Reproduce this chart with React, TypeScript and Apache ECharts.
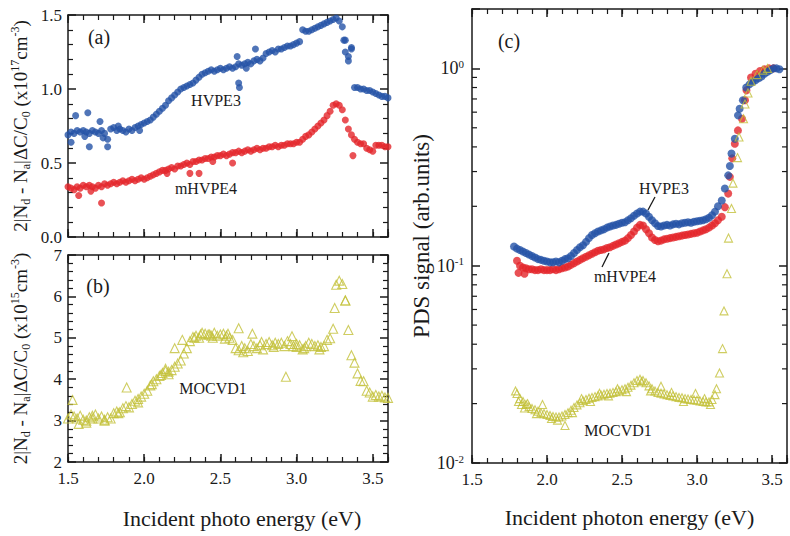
import React, { useEffect, useRef } from 'react';
import * as echarts from 'echarts';

// ---------- Panels (a) and (b): photon energy grid (eV) ----------
const ENERGY_AB = [
  1.50, 1.52, 1.54, 1.56, 1.58, 1.60, 1.62, 1.64, 1.66, 1.68,
  1.70, 1.72, 1.74, 1.76, 1.78, 1.80, 1.82, 1.84, 1.86, 1.88,
  1.90, 1.92, 1.94, 1.96, 1.98, 2.00, 2.02, 2.04, 2.06, 2.08,
  2.10, 2.12, 2.14, 2.16, 2.18, 2.20, 2.22, 2.24, 2.26, 2.28,
  2.30, 2.32, 2.34, 2.36, 2.38, 2.40, 2.42, 2.44, 2.46, 2.48,
  2.50, 2.52, 2.54, 2.56, 2.58, 2.60, 2.62, 2.64, 2.66, 2.68,
  2.70, 2.72, 2.74, 2.76, 2.78, 2.80, 2.82, 2.84, 2.86, 2.88,
  2.90, 2.92, 2.94, 2.96, 2.98, 3.00, 3.02, 3.04, 3.06, 3.08,
  3.10, 3.12, 3.14, 3.16, 3.18, 3.20, 3.22, 3.24, 3.26, 3.28,
  3.30, 3.32, 3.34, 3.36, 3.38, 3.40, 3.42, 3.44, 3.46, 3.48,
  3.50, 3.52, 3.54, 3.56, 3.58, 3.60,
];

// (a) HVPE3, x10^17 cm^-3
const A_HVPE3 = [
  0.69, 0.71, 0.70, 0.72, 0.71, 0.72, 0.71, 0.70, 0.72, 0.71,
  0.70, 0.72, 0.70, 0.66, 0.73, 0.74, 0.72, 0.73, 0.72, 0.71,
  0.73, 0.72, 0.74, 0.75, 0.76, 0.77, 0.78, 0.79, 0.81, 0.83,
  0.85, 0.87, 0.89, 0.92, 0.94, 0.96, 0.98, 1.00, 1.01, 1.02,
  1.03, 1.04, 1.06, 1.08, 1.10, 1.11, 1.12, 1.13, 1.12, 1.13,
  1.14, 1.13, 1.14, 1.15, 1.14, 1.15, 1.17, 1.16, 1.17, 1.18,
  1.17, 1.19, 1.20, 1.19, 1.21, 1.24, 1.25, 1.26, 1.25, 1.27,
  1.27, 1.28, 1.29, 1.29, 1.30, 1.31, 1.32, 1.40, 1.39, 1.39,
  1.40, 1.41, 1.42, 1.43, 1.44, 1.45, 1.46, 1.47, 1.48, 1.46,
  1.42, 1.33, 1.22, 1.27, 1.01, 1.01, 1.00, 1.00, 0.99, 0.99,
  0.98, 0.97, 0.96, 0.95, 0.95, 0.94,
];
const A_HVPE3_EXTRA = [
  [1.52, 0.64], [1.55, 0.82], [1.63, 0.84], [1.64, 0.61], [1.71, 0.78],
  [1.73, 0.67], [1.76, 0.61], [1.61, 0.68], [1.83, 0.75], [1.97, 0.72],
  [2.61, 1.22], [2.62, 1.04], [2.625, 1.01], [2.73, 1.27], [2.67, 1.14],
  [3.31, 1.33], [3.32, 1.25], [3.34, 1.19], [3.36, 1.28],
];

// (a) mHVPE4, x10^17 cm^-3
const A_MHVPE4 = [
  0.34, 0.33, 0.32, 0.34, 0.33, 0.35, 0.34, 0.35, 0.34, 0.33,
  0.35, 0.34, 0.36, 0.35, 0.36, 0.37, 0.36, 0.37, 0.38, 0.37,
  0.38, 0.39, 0.38, 0.39, 0.40, 0.39, 0.40, 0.41, 0.42, 0.43,
  0.44, 0.45, 0.45, 0.46, 0.47, 0.46, 0.48, 0.48, 0.49, 0.50,
  0.49, 0.51, 0.51, 0.52, 0.52, 0.53, 0.53, 0.54, 0.54, 0.55,
  0.55, 0.56, 0.55, 0.56, 0.57, 0.57, 0.58, 0.57, 0.58, 0.59,
  0.58, 0.59, 0.60, 0.59, 0.60, 0.60, 0.61, 0.61, 0.62, 0.61,
  0.62, 0.62, 0.63, 0.63, 0.63, 0.64, 0.64, 0.66, 0.68, 0.69,
  0.71, 0.73, 0.75, 0.77, 0.79, 0.82, 0.85, 0.89, 0.90, 0.89,
  0.86, 0.79, 0.73, 0.69, 0.66, 0.64, 0.63, 0.63, 0.60, 0.59,
  0.58, 0.62, 0.62, 0.62, 0.61, 0.61,
];
const A_MHVPE4_EXTRA = [
  [1.57, 0.28], [1.72, 0.23], [2.30, 0.43], [2.36, 0.43], [2.58, 0.50],
  [3.37, 0.55], [1.65, 0.31], [2.15, 0.43], [2.45, 0.51],
];

// (b) MOCVD1, x10^15 cm^-3
const B_MOCVD1 = [
  3.05, 3.15, 3.10, 3.05, 3.12, 3.02, 2.95, 3.08, 3.05, 3.15,
  3.05, 3.10, 3.02, 3.08, 3.05, 3.18, 3.22, 3.20, 3.30, 3.35,
  3.32, 3.40, 3.48, 3.52, 3.58, 3.65, 3.72, 3.85, 3.95, 4.00,
  4.08, 4.15, 4.20, 4.18, 4.22, 4.30, 4.38, 4.45, 4.62, 4.75,
  4.92, 5.02, 5.05, 5.00, 5.12, 5.10, 5.08, 5.05, 5.12, 5.05,
  5.08, 5.10, 5.05, 5.00, 4.95, 4.75, 4.70, 4.80, 4.75, 4.68,
  4.85, 4.80, 4.75, 4.82, 4.72, 4.85, 4.90, 4.82, 4.88, 4.85,
  4.88, 4.80, 4.92, 4.85, 4.80, 4.78, 4.82, 4.72, 4.80, 4.88,
  4.85, 4.80, 4.82, 4.78, 4.80, 4.95, 4.99, 5.22, 6.28, 6.38,
  6.30, 5.90, 5.19, 4.58, 4.40, 4.14, 3.96, 3.95, 3.72, 3.68,
  3.58, 3.62, 3.58, 3.60, 3.56, 3.55,
];
const B_MOCVD1_EXTRA = [
  [1.53, 3.50], [1.57, 2.92], [1.62, 3.00], [1.66, 3.12], [1.74, 3.00],
  [1.83, 3.18], [1.885, 3.80], [1.96, 3.44], [2.05, 3.88], [2.11, 4.10],
  [2.14, 4.25], [2.16, 4.12], [2.20, 4.75], [2.25, 4.95], [2.33, 5.00],
  [2.37, 5.08], [2.43, 5.08], [2.45, 5.00], [2.53, 4.98], [2.55, 5.10],
  [2.62, 5.23], [2.65, 4.65], [2.71, 5.10], [2.77, 4.90], [2.85, 4.78],
  [2.93, 4.06], [2.97, 5.04], [3.00, 4.85], [3.05, 4.75], [3.15, 4.72],
  [3.25, 5.72], [3.32, 5.90],
];

// ---------- Panel (c): PDS signal (arb. units), [energy, signal] ----------
const C_HVPE3 = [
  [1.78, 0.125], [1.80, 0.122], [1.82, 0.120], [1.84, 0.118], [1.86, 0.116], [1.88, 0.114], [1.90, 0.112], [1.92, 0.110], [1.94, 0.108], [1.96, 0.107],
  [1.98, 0.106], [2.00, 0.105], [2.02, 0.104], [2.04, 0.104], [2.06, 0.105], [2.08, 0.104], [2.10, 0.106], [2.12, 0.108], [2.14, 0.109], [2.16, 0.112],
  [2.18, 0.116], [2.20, 0.120], [2.22, 0.124], [2.24, 0.127], [2.26, 0.132], [2.28, 0.138], [2.30, 0.143], [2.32, 0.146], [2.34, 0.149], [2.36, 0.151],
  [2.38, 0.153], [2.40, 0.156], [2.42, 0.158], [2.44, 0.160], [2.46, 0.161], [2.48, 0.163], [2.50, 0.165], [2.52, 0.166], [2.54, 0.170], [2.56, 0.174],
  [2.58, 0.179], [2.60, 0.184], [2.62, 0.188], [2.64, 0.188], [2.66, 0.184], [2.68, 0.177], [2.70, 0.170], [2.72, 0.164], [2.74, 0.159], [2.76, 0.158],
  [2.78, 0.160], [2.80, 0.161], [2.82, 0.160], [2.84, 0.162], [2.86, 0.163], [2.88, 0.162], [2.90, 0.164], [2.92, 0.165], [2.94, 0.166], [2.96, 0.165],
  [2.98, 0.167], [3.00, 0.168], [3.02, 0.169], [3.04, 0.170], [3.06, 0.172], [3.08, 0.175], [3.10, 0.180], [3.12, 0.188], [3.14, 0.200],
  [3.165, 0.214], [3.186, 0.246], [3.208, 0.287], [3.219, 0.32], [3.23, 0.37], [3.252, 0.44], [3.273, 0.578], [3.284, 0.625], [3.306, 0.689], [3.328, 0.80],
  [3.35, 0.83], [3.37, 0.85], [3.39, 0.87], [3.41, 0.89], [3.43, 0.91], [3.45, 0.94], [3.47, 0.96], [3.49, 0.98], [3.51, 1.0], [3.53, 1.0], [3.55, 0.99],
];
const C_MHVPE4 = [
  [1.80, 0.106], [1.81, 0.092], [1.82, 0.100], [1.84, 0.098], [1.85, 0.091], [1.86, 0.097], [1.88, 0.096], [1.90, 0.096], [1.92, 0.095], [1.94, 0.095],
  [1.96, 0.096], [1.98, 0.095], [2.00, 0.095], [2.02, 0.095], [2.04, 0.096], [2.06, 0.095], [2.08, 0.096], [2.10, 0.097], [2.12, 0.098], [2.14, 0.099],
  [2.16, 0.101], [2.18, 0.103], [2.20, 0.105], [2.22, 0.107], [2.24, 0.109], [2.26, 0.111], [2.28, 0.113], [2.30, 0.115], [2.32, 0.117], [2.34, 0.119],
  [2.36, 0.120], [2.38, 0.121], [2.40, 0.123], [2.42, 0.124], [2.44, 0.126], [2.46, 0.128], [2.48, 0.130], [2.50, 0.132], [2.52, 0.134], [2.54, 0.138],
  [2.56, 0.143], [2.58, 0.149], [2.60, 0.156], [2.62, 0.161], [2.64, 0.160], [2.66, 0.153], [2.68, 0.146], [2.70, 0.139], [2.72, 0.135], [2.74, 0.133],
  [2.76, 0.134], [2.78, 0.136], [2.80, 0.137], [2.82, 0.138], [2.84, 0.139], [2.86, 0.140], [2.88, 0.141], [2.90, 0.142], [2.92, 0.143], [2.94, 0.144],
  [2.96, 0.145], [2.98, 0.146], [3.00, 0.147], [3.02, 0.149], [3.04, 0.151], [3.06, 0.153], [3.08, 0.156], [3.10, 0.160], [3.12, 0.164], [3.14, 0.170],
  [3.165, 0.177], [3.186, 0.198], [3.208, 0.232], [3.219, 0.282], [3.235, 0.35], [3.252, 0.415], [3.273, 0.485], [3.30, 0.556], [3.32, 0.689], [3.33, 0.774],
  [3.36, 0.90], [3.39, 0.94], [3.42, 0.97], [3.45, 0.99], [3.48, 1.0], [3.51, 1.0],
];
const C_MOCVD1 = [
  [1.80, 0.0225], [1.82, 0.0212], [1.84, 0.0205], [1.86, 0.0198], [1.88, 0.0193], [1.90, 0.0189], [1.92, 0.0186], [1.94, 0.0183], [1.96, 0.0180], [1.98, 0.0178],
  [2.00, 0.0176], [2.02, 0.0174], [2.04, 0.0172], [2.06, 0.0171], [2.08, 0.0171], [2.10, 0.0173], [2.12, 0.0176], [2.14, 0.0180], [2.16, 0.0185], [2.18, 0.0191],
  [2.20, 0.0197], [2.22, 0.0202], [2.24, 0.0207], [2.26, 0.0210], [2.28, 0.0213], [2.30, 0.0215], [2.32, 0.0217], [2.34, 0.0219], [2.36, 0.0221], [2.38, 0.0223],
  [2.40, 0.0225], [2.42, 0.0226], [2.44, 0.0228], [2.46, 0.0230], [2.48, 0.0232], [2.50, 0.0235], [2.52, 0.0238], [2.54, 0.0242], [2.56, 0.0248], [2.58, 0.0255],
  [2.60, 0.0262], [2.62, 0.0266], [2.64, 0.0262], [2.66, 0.0255], [2.68, 0.0246], [2.70, 0.0238], [2.72, 0.0232], [2.74, 0.0228], [2.76, 0.0226], [2.78, 0.0224],
  [2.80, 0.0222], [2.82, 0.0220], [2.84, 0.0219], [2.86, 0.0217], [2.88, 0.0215], [2.90, 0.0214], [2.92, 0.0212], [2.94, 0.0211], [2.96, 0.0210], [2.98, 0.0209],
  [3.00, 0.0208], [3.02, 0.0206], [3.04, 0.0205], [3.06, 0.0204], [3.08, 0.0204], [3.10, 0.0210],
  [3.12, 0.0222], [3.13, 0.0238], [3.15, 0.0286], [3.17, 0.038], [3.18, 0.059], [3.20, 0.091], [3.21, 0.138], [3.23, 0.195], [3.24, 0.262],
  [3.27, 0.353], [3.28, 0.449], [3.31, 0.556], [3.32, 0.66], [3.34, 0.75], [3.36, 0.86], [3.40, 0.93], [3.44, 0.98], [3.47, 1.0],
];
const C_MOCVD1_EXTRA = [
  [1.79, 0.0232], [1.81, 0.0205], [1.83, 0.0198], [1.85, 0.0190], [1.87, 0.0200], [1.93, 0.0178], [1.97, 0.0198], [2.03, 0.0168],
  [2.07, 0.0165], [2.12, 0.0155], [2.17, 0.0180], [2.23, 0.0212], [2.29, 0.0205], [2.35, 0.0226], [2.41, 0.0219], [2.47, 0.0238],
  [2.53, 0.0230], [2.63, 0.0258], [2.69, 0.0232], [2.76, 0.0245], [2.83, 0.0228], [2.91, 0.0205], [2.99, 0.0225], [3.05, 0.0212], [3.09, 0.0198],
];

// Minor ticks of the logarithmic axis in panel (c)
const LOG_MINOR_TICKS = [0.02, 0.03, 0.04, 0.05, 0.06, 0.07, 0.08, 0.09, 0.2, 0.3, 0.4, 0.5, 0.6, 0.7, 0.8, 0.9];

const X_MIN = 1.5;
const X_MAX = 3.6;

const FONT = "'Liberation Serif', 'Times New Roman', 'DejaVu Serif', serif";
const INK = '#1a1a1a';
const BLUE = '#2452a6';
const RED = '#e3262b';
const YELLOW = '#c3c13a';

const supSubRich = {
  sub: { fontFamily: FONT, fontSize: 12, lineHeight: 10, verticalAlign: 'bottom', color: INK },
  sup: { fontFamily: FONT, fontSize: 12, lineHeight: 10, verticalAlign: 'top', color: INK },
};

function fmtHalf(v: number) {
  return Math.abs(v * 2 - Math.round(v * 2)) < 1e-6 ? v.toFixed(1) : '';
}

function xMajor(gridIndex: number, position: string, labels: boolean, name?: string, nameGap?: number, padLeft = 0) {
  return {
    type: 'value', gridIndex, position, min: X_MIN, max: X_MAX, interval: 0.5,
    axisLine: { show: true, onZero: false, lineStyle: { color: INK, width: 1.5 } },
    axisTick: { show: true, inside: true, length: 8, lineStyle: { color: INK, width: 1.5 } },
    axisLabel: { show: labels, margin: 8, fontFamily: FONT, fontSize: 17, lineHeight: 16, color: INK, formatter: fmtHalf },
    splitLine: { show: false },
    name: name || '', nameLocation: 'middle', nameGap: nameGap || 0,
    nameTextStyle: { fontFamily: FONT, fontSize: 22, color: INK, padding: [0, 0, 0, padLeft] },
  };
}
function xMinor(gridIndex: number, position: string) {
  return {
    type: 'value', gridIndex, position, min: X_MIN, max: X_MAX, interval: 0.1,
    axisLine: { show: false, onZero: false },
    axisTick: { show: true, inside: true, length: 5, lineStyle: { color: INK, width: 1.2 } },
    axisLabel: { show: false },
    splitLine: { show: false },
  };
}
function yLinear(gridIndex: number, position: string, min: number, max: number, interval: number, labels: boolean, digits: number, name?: string, nameGap?: number) {
  return {
    type: 'value', gridIndex, position, min, max, interval,
    axisLine: { show: true, onZero: false, lineStyle: { color: INK, width: 1.5 } },
    axisTick: { show: true, inside: true, length: 8, lineStyle: { color: INK, width: 1.5 } },
    minorTick: { show: true, splitNumber: 5, length: 5, lineStyle: { color: INK, width: 1.2 } },
    axisLabel: { show: labels, margin: 6, fontFamily: FONT, fontSize: 17, lineHeight: 14, color: INK, formatter: (v: number) => v.toFixed(digits) },
    splitLine: { show: false },
    minorSplitLine: { show: false },
    name: name || '', nameLocation: 'middle', nameGap: nameGap || 0,
    nameTextStyle: { fontFamily: FONT, fontSize: 19, lineHeight: 23, color: INK, rich: supSubRich },
  };
}
function yLog(gridIndex: number, position: string, labels: boolean, name?: string, nameGap?: number) {
  return {
    type: 'log', logBase: 10, gridIndex, position, min: 0.01, max: 2,
    axisLine: { show: true, onZero: false, lineStyle: { color: INK, width: 1.5 } },
    axisTick: { show: true, inside: true, length: 8, lineStyle: { color: INK, width: 1.5 } },
    axisLabel: {
      show: labels, margin: 8, color: INK,
      formatter: (v: number) => {
        const e = Math.log10(v);
        if (Math.abs(e - Math.round(e)) > 1e-6) return '';
        return `{b|10}{s|${Math.round(e)}}`;
      },
      rich: {
        b: { fontFamily: FONT, fontSize: 18, lineHeight: 20, color: INK },
        s: { fontFamily: FONT, fontSize: 11, lineHeight: 11, verticalAlign: 'top', color: INK },
      },
    },
    splitLine: { show: false },
    name: name || '', nameLocation: 'middle', nameGap: nameGap || 0,
    nameTextStyle: { fontFamily: FONT, fontSize: 23, color: INK },
  };
}

function txt(x: number, y: number, text: string, size: number) {
  return {
    type: 'text', x, y, silent: true,
    style: { text, fill: INK, fontFamily: FONT, fontSize: size, align: 'center', verticalAlign: 'middle' },
  };
}
function leader(x1: number, y1: number, x2: number, y2: number) {
  return { type: 'line', silent: true, shape: { x1, y1, x2, y2 }, style: { stroke: INK, lineWidth: 1.3 } };
}

export default function App() {
  const ref = useRef<HTMLDivElement>(null);
  useEffect(() => {
    const chart = echarts.init(ref.current as HTMLDivElement, null, { renderer: 'svg' });
    const pairs = (ys: number[]) => ENERGY_AB.map((e, i) => [e, ys[i]]);
    const option: any = {
      animation: false,
      backgroundColor: '#ffffff',
      grid: [
        { left: 68, top: 15, width: 320, height: 222 },
        { left: 68, top: 255, width: 320, height: 207 },
        { left: 472, top: 9, width: 321, height: 454 },
      ],
      xAxis: [
        xMajor(0, 'bottom', false), xMinor(0, 'bottom'), xMajor(0, 'top', false), xMinor(0, 'top'),
        xMajor(1, 'bottom', true, 'Incident photo energy (eV)', 45, 28), xMinor(1, 'bottom'), xMajor(1, 'top', false), xMinor(1, 'top'),
        xMajor(2, 'bottom', true, 'Incident photon energy (eV)', 43), xMinor(2, 'bottom'), xMajor(2, 'top', false), xMinor(2, 'top'),
      ],
      yAxis: [
        yLinear(0, 'left', 0, 1.5, 0.5, true, 1, '2|N{sub|d} - N{sub|a}|ΔC/C{sub|0} (x10{sup|17}cm{sup|-3})', 36),
        yLinear(0, 'right', 0, 1.5, 0.5, false, 1),
        yLinear(1, 'left', 2, 7, 1, true, 0, '2|N{sub|d} - N{sub|a}|ΔC/C{sub|0} (x10{sup|15}cm{sup|-3})', 36),
        yLinear(1, 'right', 2, 7, 1, false, 0),
        yLog(2, 'left', true, 'PDS signal (arb.units)', 37),
        yLog(2, 'right', false),
      ],
      series: [
        {
          type: 'scatter', name: 'HVPE3 (a)', xAxisIndex: 0, yAxisIndex: 0, symbol: 'circle', symbolSize: 7,
          itemStyle: { color: BLUE }, data: pairs(A_HVPE3).concat(A_HVPE3_EXTRA),
        },
        {
          type: 'scatter', name: 'mHVPE4 (a)', xAxisIndex: 0, yAxisIndex: 0, symbol: 'circle', symbolSize: 7,
          itemStyle: { color: RED }, data: pairs(A_MHVPE4).concat(A_MHVPE4_EXTRA),
        },
        {
          type: 'scatter', name: 'MOCVD1 (b)', xAxisIndex: 4, yAxisIndex: 2, symbol: 'triangle', symbolSize: 9,
          itemStyle: { color: 'rgba(0,0,0,0)', borderColor: YELLOW, borderWidth: 1.1 },
          data: pairs(B_MOCVD1).concat(B_MOCVD1_EXTRA),
        },
        {
          type: 'scatter', name: 'mHVPE4 (c)', xAxisIndex: 8, yAxisIndex: 4, symbol: 'circle', symbolSize: 8,
          itemStyle: { color: RED }, data: C_MHVPE4,
        },
        {
          type: 'scatter', name: 'HVPE3 (c)', xAxisIndex: 8, yAxisIndex: 4, symbol: 'circle', symbolSize: 8,
          itemStyle: { color: BLUE }, data: C_HVPE3,
        },
        {
          type: 'scatter', name: 'MOCVD1 (c)', xAxisIndex: 8, yAxisIndex: 4, symbol: 'triangle', symbolSize: 8,
          itemStyle: { color: 'rgba(0,0,0,0)', borderColor: YELLOW, borderWidth: 1.1 },
          data: C_MOCVD1.concat(C_MOCVD1_EXTRA),
        },
        {
          type: 'custom', name: 'log minor ticks', xAxisIndex: 8, yAxisIndex: 4, silent: true,
          data: LOG_MINOR_TICKS.map((v) => [X_MIN, v]),
          renderItem: (_params: any, api: any) => {
            const v = api.value(1);
            const l = api.coord([X_MIN, v]);
            const r = api.coord([X_MAX, v]);
            const st = { stroke: INK, lineWidth: 1.2 };
            return {
              type: 'group',
              children: [
                { type: 'line', shape: { x1: l[0], y1: l[1], x2: l[0] + 5, y2: l[1] }, style: st },
                { type: 'line', shape: { x1: r[0], y1: r[1], x2: r[0] - 5, y2: r[1] }, style: st },
              ],
            };
          },
        },
      ],
      graphic: [
        txt(99, 37, '(a)', 20),
        txt(216, 100, 'HVPE3', 16),
        txt(206, 188, 'mHVPE4', 16),
        txt(98, 286, '(b)', 20),
        txt(213, 388, 'MOCVD1', 16),
        txt(509, 41, '(c)', 20),
        txt(664, 188, 'HVPE3', 16),
        leader(655, 197, 648, 210),
        txt(625, 276, 'mHVPE4', 16),
        leader(609, 253, 602, 267),
        txt(618, 430, 'MOCVD1', 16),
      ],
    };
    chart.setOption(option);
    return () => chart.dispose();
  }, []);
  return (
    <div
      ref={ref}
      style={{ position: 'fixed', left: 0, top: 0, width: 790, height: 536, background: '#ffffff' }}
    />
  );
}
